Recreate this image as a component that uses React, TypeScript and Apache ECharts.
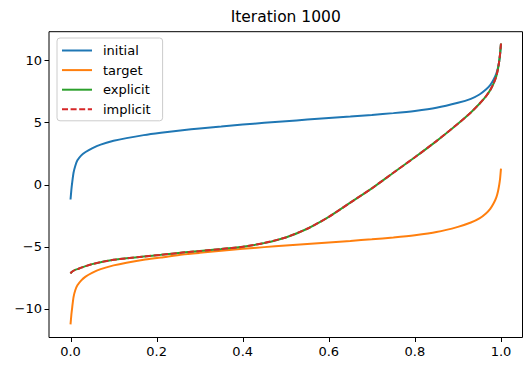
import React, { useEffect, useRef } from "react";
import * as echarts from "echarts";

const xs = [0, 0.002, 0.004, 0.007, 0.011, 0.016, 0.025, 0.035, 0.05, 0.07, 0.1, 0.13, 0.17, 0.21, 0.26, 0.3, 0.35, 0.4, 0.45, 0.5, 0.55, 0.6, 0.65, 0.7, 0.75, 0.8, 0.85, 0.9, 0.93, 0.95, 0.965, 0.975, 0.983, 0.989, 0.993, 0.996, 0.998, 1.0];

const initial = [-1.2, -0.4, 0.2, 0.95, 1.5, 1.95, 2.35, 2.62, 2.92, 3.22, 3.52, 3.74, 3.98, 4.17, 4.38, 4.52, 4.67, 4.83, 4.97, 5.1, 5.23, 5.35, 5.47, 5.6, 5.75, 5.93, 6.18, 6.58, 6.9, 7.25, 7.65, 8.0, 8.45, 8.9, 9.4, 9.95, 10.5, 11.3];

const target = [-11.25, -10.45, -9.85, -9.05, -8.5, -8.1, -7.7, -7.4, -7.1, -6.8, -6.5, -6.28, -6.05, -5.87, -5.63, -5.49, -5.33, -5.17, -5.03, -4.9, -4.77, -4.65, -4.53, -4.4, -4.25, -4.07, -3.82, -3.4, -3.05, -2.72, -2.32, -1.95, -1.5, -1.05, -0.55, 0.0, 0.5, 1.28];

const explicit = [-7.15, -7.05, -7.0, -6.93, -6.86, -6.8, -6.68, -6.56, -6.4, -6.24, -6.05, -5.93, -5.79, -5.65, -5.47, -5.35, -5.18, -5.0, -4.7, -4.25, -3.55, -2.6, -1.45, -0.3, 0.95, 2.2, 3.5, 4.9, 5.8, 6.5, 7.1, 7.6, 8.15, 8.7, 9.3, 9.95, 10.55, 11.35];

const implicit = [-7.15, -7.05, -7.0, -6.93, -6.86, -6.8, -6.68, -6.56, -6.4, -6.24, -6.05, -5.93, -5.79, -5.65, -5.47, -5.35, -5.18, -5.0, -4.7, -4.25, -3.55, -2.6, -1.45, -0.3, 0.95, 2.2, 3.5, 4.9, 5.8, 6.5, 7.1, 7.6, 8.15, 8.7, 9.3, 9.95, 10.55, 11.35];

const xTicks = [0, 0.2, 0.4, 0.6, 0.8, 1.0];
const yTicks = [-10, -5, 0, 5, 10];
const title = "Iteration 1000";

const FONT = "DejaVu Sans";
const X_MIN = -0.05;
const X_MAX = 1.05;
const Y_MIN = -12.3;
const Y_MAX = 12.3;

const pairs = (ys: number[]) => xs.map((x, i) => [x, ys[i]]);

export default function App() {
  const ref = useRef<HTMLDivElement>(null);
  useEffect(() => {
    if (!ref.current) return;
    const chart = echarts.init(ref.current, null, { renderer: "svg" });
    const gridLeft = 49;
    const gridRight = 9.5;
    const gridTop = 31.7;
    const gridBottom = 34.5;
    const plotW = 532 - gridLeft - gridRight;
    const plotH = 372 - gridTop - gridBottom;
    const plotCenter = gridLeft + plotW / 2;
    const mk = (name: string, ys: number[], color: string, dashed = false) => ({
      name,
      type: "line",
      data: pairs(ys),
      symbol: "none",
      showSymbol: false,
      clip: true,
      smooth: 0.2,
      lineStyle: { color, width: 2, type: dashed ? [6, 2.6] : "solid" },
      itemStyle: { color },
    });
    const axisCommon = {
      splitLine: { show: false },
      axisLine: { show: false, onZero: false },
      axisTick: { show: false },
    };
    chart.setOption({
      animation: false,
      textStyle: { fontFamily: FONT },
      grid: {
        left: gridLeft,
        right: gridRight,
        top: gridTop,
        bottom: gridBottom,
        show: true,
        borderColor: "#000",
        borderWidth: 1,
        backgroundColor: "transparent",
      },
      legend: {
        orient: "vertical",
        left: 57,
        top: 38,
        padding: [6, 12, 5, 4],
        itemWidth: 30,
        itemHeight: 14,
        itemGap: 6.6,
        borderColor: "#cccccc",
        borderWidth: 1,
        borderRadius: 3,
        backgroundColor: "rgba(255,255,255,0.8)",
        itemStyle: { opacity: 0 },
        lineStyle: { width: 2 },
        textStyle: { fontFamily: FONT, fontSize: 13, color: "#000", padding: [0, 0, 0, 6] },
        data: ["initial", "target", "explicit", "implicit"],
      },
      xAxis: {
        type: "value",
        min: X_MIN,
        max: X_MAX,
        position: "bottom",
        ...axisCommon,
        axisLabel: {
          show: true,
          customValues: xTicks,
          formatter: (v: number) => v.toFixed(1),
          fontFamily: FONT,
          fontSize: 13,
          color: "#000",
          margin: 7,
        },
      },
      yAxis: {
        type: "value",
        min: Y_MIN,
        max: Y_MAX,
        position: "left",
        ...axisCommon,
        axisLabel: {
          show: true,
          customValues: yTicks,
          formatter: (v: number) => (v < 0 ? "\u2212" + Math.abs(v) : String(v)),
          fontFamily: FONT,
          fontSize: 13,
          color: "#000",
          margin: 7,
        },
      },
      series: [
        mk("initial", initial, "#1f77b4"),
        mk("target", target, "#ff7f0e"),
        mk("explicit", explicit, "#2ca02c"),
        mk("implicit", implicit, "#d62728", true),
      ],
    });
    const toX = (v: number) => {
      let n: any;
      try {
        n = chart.convertToPixel({ xAxisIndex: 0 }, v);
      } catch (e) {
        n = NaN;
      }
      if (Array.isArray(n)) n = n[0];
      return typeof n === "number" && isFinite(n) ? n : gridLeft + ((v - X_MIN) / (X_MAX - X_MIN)) * plotW;
    };
    const toY = (v: number) => {
      let n: any;
      try {
        n = chart.convertToPixel({ yAxisIndex: 0 }, v);
      } catch (e) {
        n = NaN;
      }
      if (Array.isArray(n)) n = n[1];
      return typeof n === "number" && isFinite(n) ? n : gridTop + ((Y_MAX - v) / (Y_MAX - Y_MIN)) * plotH;
    };
    const bottomY = gridTop + plotH;
    const tickLen = 4.5;
    const elements: any[] = [
      {
        type: "text",
        x: plotCenter,
        y: 16.5,
        style: {
          text: title,
          fontFamily: FONT,
          fontSize: 15.5,
          fill: "#000",
          align: "center",
          verticalAlign: "middle",
        },
      },
    ];
    xTicks.forEach((v) => {
      const x = Math.round(toX(v)) + 0.5;
      elements.push({
        type: "line",
        shape: { x1: x, y1: bottomY, x2: x, y2: bottomY + tickLen },
        style: { stroke: "#000", lineWidth: 1 },
      });
    });
    yTicks.forEach((v) => {
      const y = Math.round(toY(v)) + 0.5;
      elements.push({
        type: "line",
        shape: { x1: gridLeft - tickLen, y1: y, x2: gridLeft, y2: y },
        style: { stroke: "#000", lineWidth: 1 },
      });
    });
    chart.setOption({ graphic: { elements } });
    return () => chart.dispose();
  }, []);
  return <div ref={ref} style={{ width: 532, height: 372, position: "absolute", left: 0, top: 0 }} />;
}
